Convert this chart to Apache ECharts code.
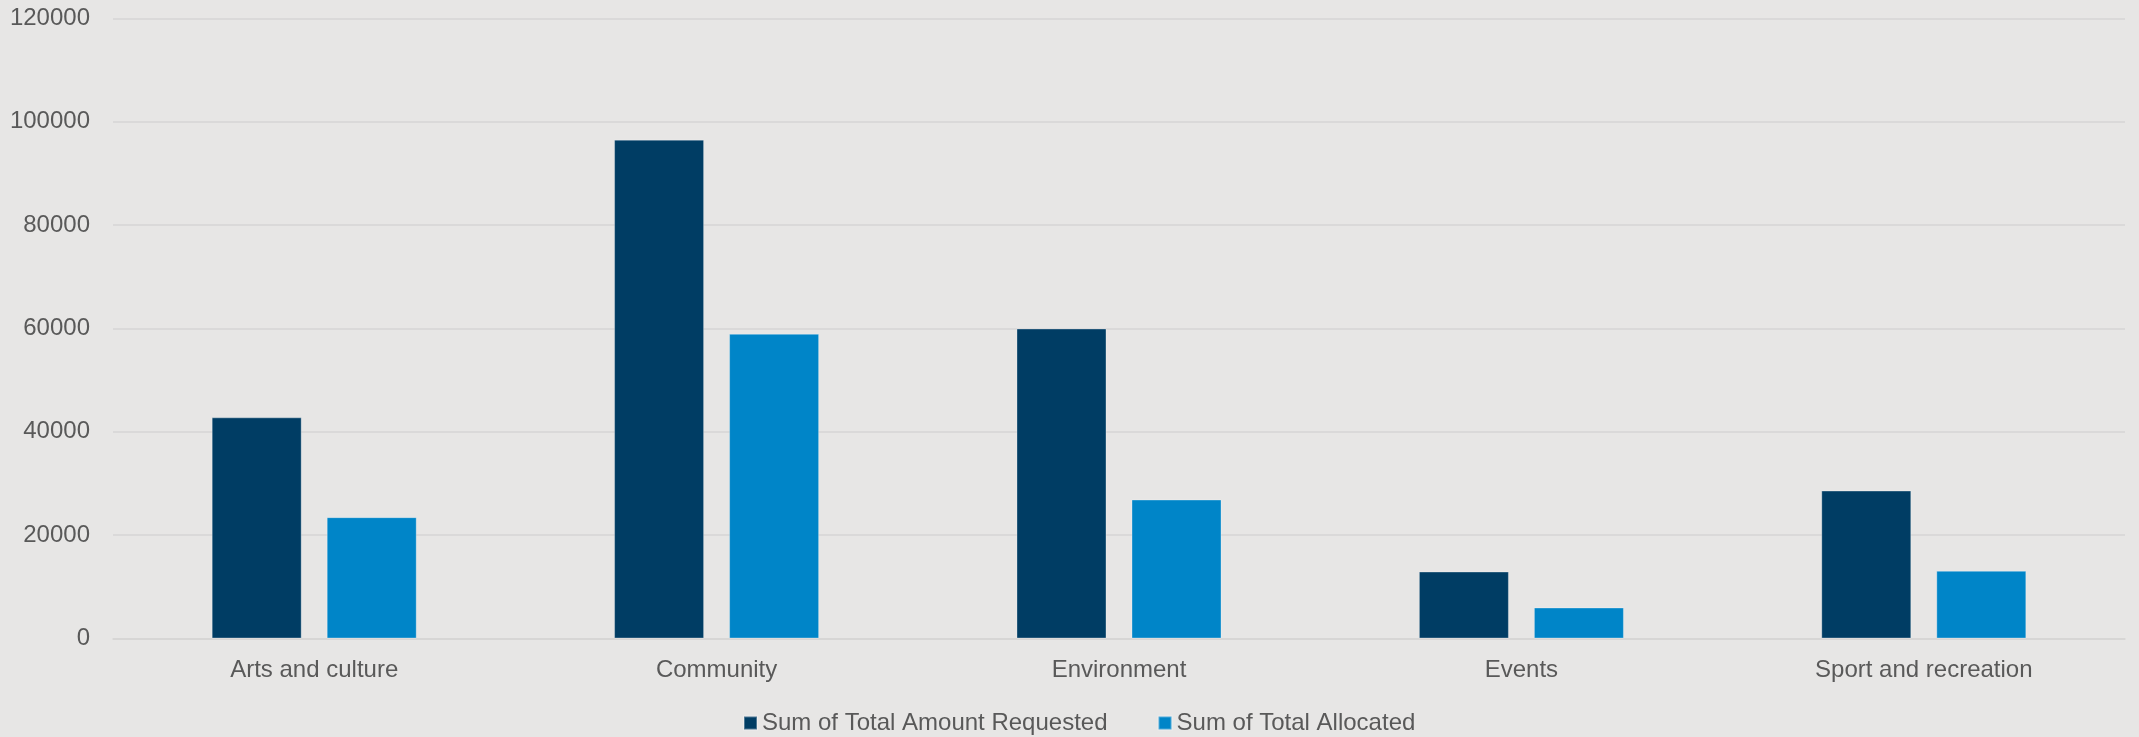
<!DOCTYPE html>
<html>
<head>
<meta charset="utf-8">
<script src="https://cdn.jsdelivr.net/npm/echarts@6/dist/echarts.min.js"></script>
<style>
html,body{margin:0;padding:0;background:#E7E6E5;}
#chart{width:2139px;height:737px;}
</style>
</head>
<body>
<div id="chart"></div>
<script>
const categories = ["Arts and culture", "Community", "Environment", "Events", "Sport and recreation"];
const requested = [42800, 96550, 60000, 12960, 28630];
const allocated = [23480, 58970, 26900, 6000, 13100];
const seriesNames = ["Sum of Total Amount Requested", "Sum of Total Allocated"];
const yTicks = { min: 0, max: 120000, interval: 20000 };

const chart = echarts.init(document.getElementById('chart'));
const font = "Liberation Sans, Arial, sans-serif";
chart.setOption({
  backgroundColor: '#E7E6E5',
  animation: false,
  grid: { left: 113, right: 14, top: 18.5, bottom: 98.5, containLabel: false },
  legend: {
    left: 738, top: 706,
    icon: 'rect', itemWidth: 13, itemHeight: 13, itemGap: 50,
    textStyle: { fontFamily: font, fontSize: 24, color: '#595959' },
    data: seriesNames
  },
  xAxis: {
    type: 'category', data: categories,
    axisLine: { lineStyle: { color: '#D6D5D4', width: 1.5 } },
    axisTick: { show: false },
    axisLabel: { fontFamily: font, fontSize: 24, color: '#595959', margin: 20 }
  },
  yAxis: {
    type: 'value', min: yTicks.min, max: yTicks.max, interval: yTicks.interval,
    axisLine: { show: false }, axisTick: { show: false },
    splitLine: { lineStyle: { color: '#D6D5D4', width: 1.5 } },
    axisLabel: { fontFamily: font, fontSize: 24, color: '#595959', margin: 23,
      formatter: function (v) { return String(v); } }
  },
  series: [
    { name: seriesNames[0], type: 'bar', data: requested, barWidth: 90, barGap: '27.8%',
      itemStyle: { color: '#003D64', borderColor: 'rgba(255,255,255,0.3)', borderWidth: 1 } },
    { name: seriesNames[1], type: 'bar', data: allocated, barWidth: 90,
      itemStyle: { color: '#0085C8', borderColor: 'rgba(255,255,255,0.3)', borderWidth: 1 } }
  ]
});
</script>
</body>
</html>
